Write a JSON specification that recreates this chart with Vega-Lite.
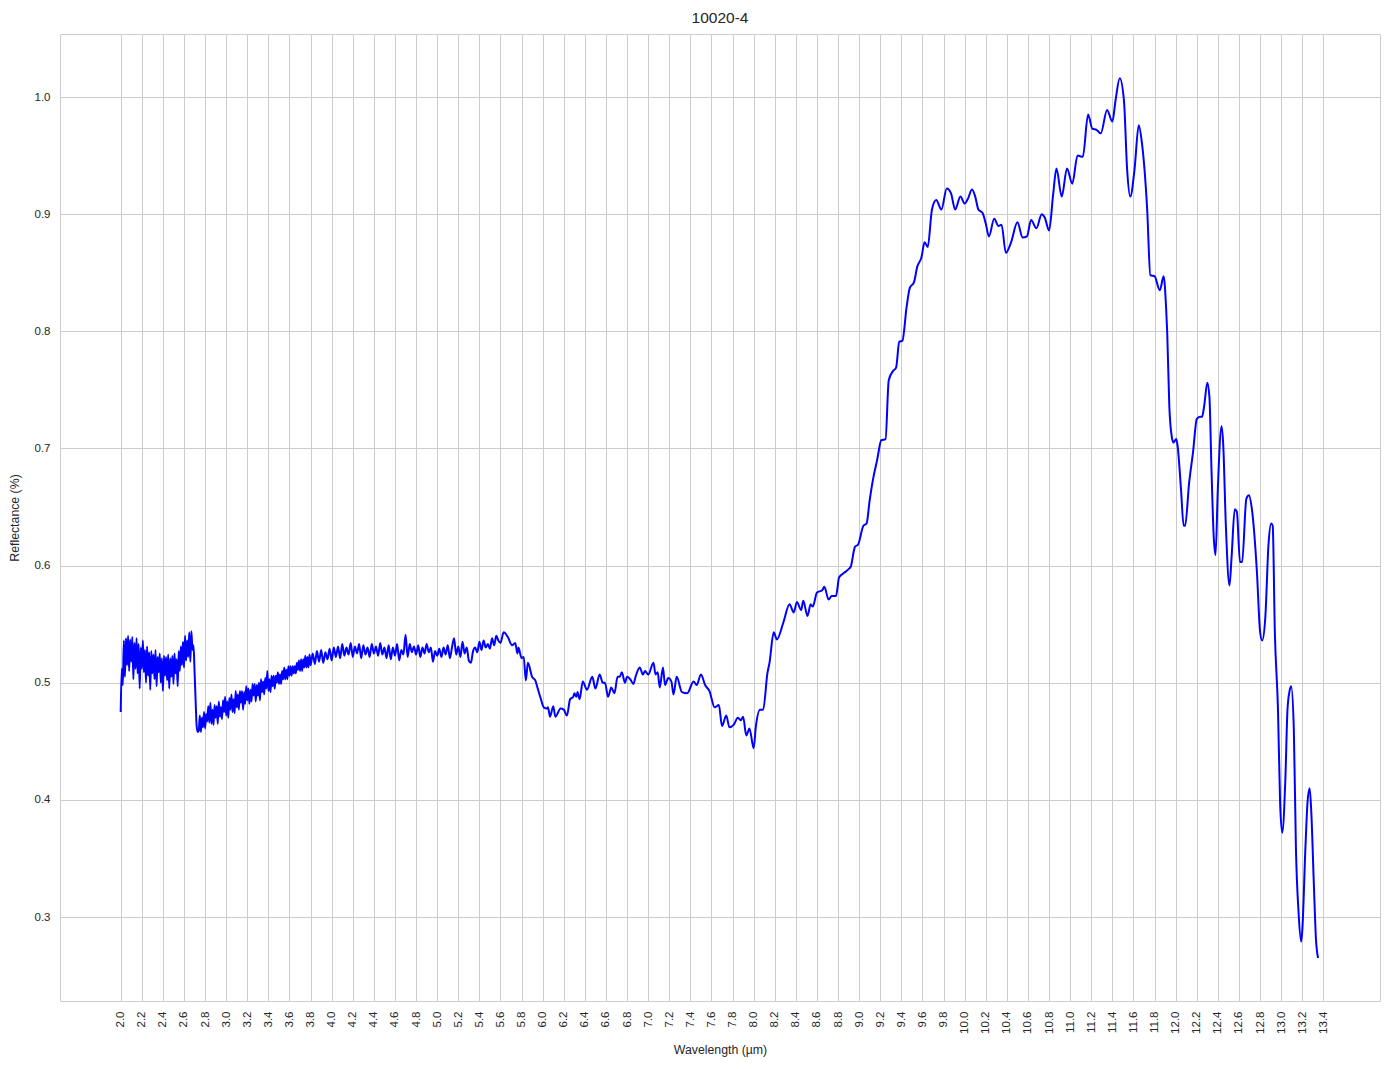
{
  "$schema": "https://vega.github.io/schema/vega-lite/v6.json",
  "autosize": {"type": "none"},
  "width": 1320,
  "height": 967,
  "padding": {"left": 60, "top": 34, "right": 14, "bottom": 68},
  "background": "white",
  "title": {"text": "10020-4", "fontSize": 15.5, "fontWeight": "normal", "font": "Liberation Sans", "color": "#262626", "offset": 8},
  "config": {
    "view": {"stroke": "#cccccc", "strokeWidth": 1},
    "axis": {
      "domain": false, "ticks": false, "grid": true, "gridColor": "#cccccc", "gridWidth": 1,
      "labelFont": "Liberation Sans", "labelFontSize": 11.5, "labelColor": "#262626",
      "titleFont": "Liberation Sans", "titleFontSize": 12.3, "titleFontWeight": "normal", "titleColor": "#262626"
    }
  },
  "data": {"values": [
    {"w":2.00,"r":0.475},{"w":2.01,"r":0.512},{"w":2.02,"r":0.498},{"w":2.03,"r":0.536},{"w":2.04,"r":0.505},{"w":2.05,"r":0.538},{"w":2.06,"r":0.515},{"w":2.07,"r":0.540},{"w":2.08,"r":0.510},{"w":2.09,"r":0.537},
    {"w":2.10,"r":0.518},{"w":2.11,"r":0.539},{"w":2.12,"r":0.503},{"w":2.13,"r":0.534},{"w":2.14,"r":0.512},{"w":2.15,"r":0.538},{"w":2.16,"r":0.508},{"w":2.17,"r":0.533},{"w":2.18,"r":0.495},{"w":2.19,"r":0.530},
    {"w":2.20,"r":0.512},{"w":2.21,"r":0.536},{"w":2.22,"r":0.509},{"w":2.23,"r":0.528},{"w":2.24,"r":0.500},{"w":2.25,"r":0.531},{"w":2.26,"r":0.506},{"w":2.27,"r":0.526},{"w":2.28,"r":0.494},{"w":2.29,"r":0.527},
    {"w":2.30,"r":0.508},{"w":2.31,"r":0.524},{"w":2.32,"r":0.503},{"w":2.33,"r":0.528},{"w":2.34,"r":0.497},{"w":2.35,"r":0.522},{"w":2.36,"r":0.509},{"w":2.37,"r":0.525},{"w":2.38,"r":0.500},{"w":2.39,"r":0.521},
    {"w":2.40,"r":0.493},{"w":2.41,"r":0.523},{"w":2.42,"r":0.506},{"w":2.43,"r":0.522},{"w":2.44,"r":0.502},{"w":2.45,"r":0.524},{"w":2.46,"r":0.495},{"w":2.47,"r":0.521},{"w":2.48,"r":0.505},{"w":2.49,"r":0.523},
    {"w":2.50,"r":0.499},{"w":2.51,"r":0.525},{"w":2.52,"r":0.508},{"w":2.53,"r":0.520},{"w":2.54,"r":0.497},{"w":2.55,"r":0.527},{"w":2.56,"r":0.510},{"w":2.57,"r":0.531},{"w":2.58,"r":0.515},{"w":2.59,"r":0.535},
    {"w":2.60,"r":0.513},{"w":2.61,"r":0.540},{"w":2.62,"r":0.519},{"w":2.63,"r":0.536},{"w":2.64,"r":0.522},{"w":2.65,"r":0.543},{"w":2.66,"r":0.518},{"w":2.67,"r":0.544},{"w":2.68,"r":0.528},{"w":2.69,"r":0.532},
    {"w":2.70,"r":0.510},{"w":2.71,"r":0.485},{"w":2.72,"r":0.463},{"w":2.73,"r":0.458},
    {"w":2.74,"r":0.459},{"w":2.75,"r":0.472},{"w":2.76,"r":0.458},{"w":2.77,"r":0.470},{"w":2.78,"r":0.462},{"w":2.79,"r":0.475},
    {"w":2.80,"r":0.461},{"w":2.81,"r":0.473},{"w":2.82,"r":0.467},{"w":2.83,"r":0.480},{"w":2.84,"r":0.466},{"w":2.85,"r":0.483},{"w":2.86,"r":0.465},{"w":2.87,"r":0.477},{"w":2.88,"r":0.464},{"w":2.89,"r":0.481},
    {"w":2.90,"r":0.470},{"w":2.91,"r":0.480},{"w":2.92,"r":0.465},{"w":2.93,"r":0.484},{"w":2.94,"r":0.471},{"w":2.95,"r":0.479},{"w":2.96,"r":0.469},{"w":2.97,"r":0.485},{"w":2.98,"r":0.475},{"w":2.99,"r":0.488},
    {"w":3.00,"r":0.472},{"w":3.01,"r":0.484},{"w":3.02,"r":0.470},{"w":3.03,"r":0.487},{"w":3.04,"r":0.477},{"w":3.05,"r":0.490},{"w":3.06,"r":0.475},{"w":3.07,"r":0.486},{"w":3.08,"r":0.474},{"w":3.09,"r":0.493},
    {"w":3.10,"r":0.479},{"w":3.11,"r":0.490},{"w":3.12,"r":0.477},{"w":3.13,"r":0.493},{"w":3.14,"r":0.483},{"w":3.15,"r":0.493},{"w":3.16,"r":0.477},{"w":3.17,"r":0.492},{"w":3.18,"r":0.482},{"w":3.19,"r":0.497},
    {"w":3.20,"r":0.485},{"w":3.21,"r":0.495},{"w":3.22,"r":0.482},{"w":3.23,"r":0.494},{"w":3.24,"r":0.484},{"w":3.25,"r":0.499},{"w":3.26,"r":0.489},{"w":3.27,"r":0.499},{"w":3.28,"r":0.484},{"w":3.29,"r":0.498},
    {"w":3.30,"r":0.489},{"w":3.31,"r":0.500},{"w":3.32,"r":0.485},{"w":3.33,"r":0.503},{"w":3.34,"r":0.492},{"w":3.35,"r":0.501},{"w":3.36,"r":0.490},{"w":3.37,"r":0.504},{"w":3.38,"r":0.495},{"w":3.39,"r":0.510},
    {"w":3.40,"r":0.493},{"w":3.41,"r":0.503},{"w":3.42,"r":0.492},{"w":3.43,"r":0.506},{"w":3.44,"r":0.497},{"w":3.45,"r":0.506},{"w":3.46,"r":0.495},{"w":3.47,"r":0.506},{"w":3.48,"r":0.500},{"w":3.49,"r":0.509},
    {"w":3.50,"r":0.499},{"w":3.51,"r":0.507},{"w":3.52,"r":0.499},{"w":3.53,"r":0.510},{"w":3.54,"r":0.503},{"w":3.55,"r":0.513},{"w":3.56,"r":0.503},{"w":3.57,"r":0.511},{"w":3.58,"r":0.503},{"w":3.59,"r":0.514},
    {"w":3.60,"r":0.506},{"w":3.61,"r":0.514},{"w":3.62,"r":0.506},{"w":3.63,"r":0.514},{"w":3.64,"r":0.508},{"w":3.65,"r":0.514},{"w":3.66,"r":0.508},{"w":3.67,"r":0.517},{"w":3.68,"r":0.511},{"w":3.69,"r":0.519},
    {"w":3.70,"r":0.510},{"w":3.71,"r":0.520},{"w":3.72,"r":0.510},{"w":3.73,"r":0.520},{"w":3.74,"r":0.513},{"w":3.75,"r":0.523},{"w":3.76,"r":0.513},{"w":3.77,"r":0.522},{"w":3.78,"r":0.513},{"w":3.79,"r":0.524},
    {"w":3.80,"r":0.515},{"w":3.82,"r":0.525},{"w":3.84,"r":0.516},{"w":3.86,"r":0.527},{"w":3.88,"r":0.518},{"w":3.90,"r":0.528},{"w":3.92,"r":0.517},{"w":3.94,"r":0.526},{"w":3.96,"r":0.520},{"w":3.98,"r":0.529},
    {"w":4.00,"r":0.519},{"w":4.02,"r":0.530},{"w":4.04,"r":0.522},{"w":4.06,"r":0.531},{"w":4.08,"r":0.521},{"w":4.10,"r":0.533},{"w":4.12,"r":0.523},{"w":4.14,"r":0.530},{"w":4.16,"r":0.524},{"w":4.18,"r":0.534},
    {"w":4.20,"r":0.522},{"w":4.22,"r":0.531},{"w":4.24,"r":0.525},{"w":4.26,"r":0.533},{"w":4.28,"r":0.521},{"w":4.30,"r":0.532},{"w":4.32,"r":0.524},{"w":4.34,"r":0.530},{"w":4.36,"r":0.522},{"w":4.38,"r":0.533},
    {"w":4.40,"r":0.525},{"w":4.42,"r":0.531},{"w":4.44,"r":0.523},{"w":4.46,"r":0.534},{"w":4.48,"r":0.524},{"w":4.50,"r":0.530},{"w":4.52,"r":0.521},{"w":4.54,"r":0.532},{"w":4.56,"r":0.520},{"w":4.58,"r":0.530},
    {"w":4.60,"r":0.523},{"w":4.62,"r":0.533},{"w":4.64,"r":0.519},{"w":4.66,"r":0.528},{"w":4.68,"r":0.524},{"w":4.70,"r":0.541},{"w":4.72,"r":0.522},{"w":4.74,"r":0.533},{"w":4.76,"r":0.526},{"w":4.78,"r":0.531},
    {"w":4.80,"r":0.524},{"w":4.82,"r":0.532},{"w":4.84,"r":0.522},{"w":4.86,"r":0.530},{"w":4.88,"r":0.525},{"w":4.90,"r":0.533},{"w":4.92,"r":0.526},{"w":4.94,"r":0.530},{"w":4.96,"r":0.518},{"w":4.98,"r":0.527},
    {"w":5.00,"r":0.523},{"w":5.02,"r":0.529},{"w":5.04,"r":0.522},{"w":5.06,"r":0.530},{"w":5.08,"r":0.524},{"w":5.10,"r":0.532},{"w":5.12,"r":0.521},{"w":5.14,"r":0.530},{"w":5.16,"r":0.538},{"w":5.18,"r":0.524},
    {"w":5.20,"r":0.531},{"w":5.22,"r":0.522},{"w":5.24,"r":0.535},{"w":5.26,"r":0.525},{"w":5.28,"r":0.530},{"w":5.30,"r":0.519},{"w":5.32,"r":0.517},{"w":5.34,"r":0.527},{"w":5.36,"r":0.530},{"w":5.38,"r":0.526},
    {"w":5.40,"r":0.535},{"w":5.42,"r":0.528},{"w":5.44,"r":0.536},{"w":5.46,"r":0.530},{"w":5.48,"r":0.533},{"w":5.50,"r":0.529},{"w":5.52,"r":0.538},{"w":5.54,"r":0.532},{"w":5.56,"r":0.540},{"w":5.58,"r":0.536},
    {"w":5.60,"r":0.534},{"w":5.63,"r":0.543},{"w":5.67,"r":0.539},{"w":5.71,"r":0.532},{"w":5.74,"r":0.534},{"w":5.76,"r":0.525},{"w":5.77,"r":0.530},{"w":5.80,"r":0.521},{"w":5.82,"r":0.522},{"w":5.84,"r":0.502},
    {"w":5.86,"r":0.517},{"w":5.90,"r":0.505},{"w":5.93,"r":0.502},{"w":5.95,"r":0.496},{"w":5.98,"r":0.487},{"w":6.01,"r":0.479},{"w":6.04,"r":0.478},{"w":6.05,"r":0.479},{"w":6.07,"r":0.471},{"w":6.10,"r":0.480},
    {"w":6.12,"r":0.471},{"w":6.17,"r":0.478},{"w":6.20,"r":0.477},{"w":6.23,"r":0.472},{"w":6.26,"r":0.486},{"w":6.29,"r":0.488},{"w":6.30,"r":0.491},{"w":6.32,"r":0.488},{"w":6.33,"r":0.492},{"w":6.35,"r":0.486},
    {"w":6.38,"r":0.501},{"w":6.42,"r":0.494},{"w":6.47,"r":0.505},{"w":6.50,"r":0.495},{"w":6.54,"r":0.507},{"w":6.57,"r":0.500},{"w":6.59,"r":0.500},{"w":6.62,"r":0.488},{"w":6.65,"r":0.496},{"w":6.68,"r":0.491},
    {"w":6.71,"r":0.505},{"w":6.73,"r":0.505},{"w":6.75,"r":0.509},{"w":6.78,"r":0.500},{"w":6.80,"r":0.505},{"w":6.83,"r":0.503},{"w":6.86,"r":0.499},{"w":6.88,"r":0.505},{"w":6.92,"r":0.513},{"w":6.95,"r":0.507},
    {"w":6.97,"r":0.510},{"w":7.00,"r":0.507},{"w":7.05,"r":0.517},{"w":7.07,"r":0.507},{"w":7.09,"r":0.509},{"w":7.11,"r":0.496},{"w":7.14,"r":0.513},{"w":7.16,"r":0.498},{"w":7.19,"r":0.504},{"w":7.22,"r":0.501},
    {"w":7.24,"r":0.490},{"w":7.27,"r":0.505},{"w":7.32,"r":0.492},{"w":7.37,"r":0.491},{"w":7.43,"r":0.501},{"w":7.46,"r":0.498},{"w":7.50,"r":0.507},{"w":7.54,"r":0.498},{"w":7.58,"r":0.493},{"w":7.63,"r":0.479},
    {"w":7.67,"r":0.481},{"w":7.70,"r":0.463},{"w":7.74,"r":0.472},{"w":7.77,"r":0.462},{"w":7.81,"r":0.464},{"w":7.85,"r":0.470},{"w":7.88,"r":0.468},{"w":7.90,"r":0.471},{"w":7.93,"r":0.455},{"w":7.96,"r":0.461},
    {"w":8.00,"r":0.444},{"w":8.02,"r":0.462},{"w":8.06,"r":0.477},{"w":8.09,"r":0.477},{"w":8.13,"r":0.508},{"w":8.15,"r":0.517},{"w":8.19,"r":0.543},{"w":8.22,"r":0.537},{"w":8.28,"r":0.551},{"w":8.34,"r":0.567},
    {"w":8.38,"r":0.560},{"w":8.41,"r":0.569},{"w":8.45,"r":0.562},{"w":8.47,"r":0.570},{"w":8.51,"r":0.557},{"w":8.54,"r":0.567},{"w":8.56,"r":0.565},{"w":8.60,"r":0.577},{"w":8.65,"r":0.579},{"w":8.67,"r":0.582},
    {"w":8.71,"r":0.571},{"w":8.74,"r":0.574},{"w":8.78,"r":0.574},{"w":8.81,"r":0.590},{"w":8.86,"r":0.594},{"w":8.90,"r":0.597},{"w":8.92,"r":0.599},{"w":8.96,"r":0.616},{"w":8.99,"r":0.618},{"w":9.04,"r":0.634},
    {"w":9.07,"r":0.636},{"w":9.10,"r":0.656},{"w":9.13,"r":0.673},{"w":9.17,"r":0.690},{"w":9.21,"r":0.707},{"w":9.25,"r":0.708},{"w":9.28,"r":0.758},{"w":9.32,"r":0.766},{"w":9.35,"r":0.769},{"w":9.38,"r":0.791},
    {"w":9.41,"r":0.792},{"w":9.45,"r":0.821},{"w":9.48,"r":0.837},{"w":9.52,"r":0.842},{"w":9.55,"r":0.855},{"w":9.59,"r":0.863},{"w":9.62,"r":0.876},{"w":9.65,"r":0.872},{"w":9.69,"r":0.904},{"w":9.73,"r":0.912},
    {"w":9.78,"r":0.904},{"w":9.83,"r":0.922},{"w":9.87,"r":0.918},{"w":9.91,"r":0.904},{"w":9.96,"r":0.915},{"w":10.00,"r":0.909},{"w":10.03,"r":0.913},{"w":10.07,"r":0.921},{"w":10.10,"r":0.915},{"w":10.13,"r":0.904},
    {"w":10.17,"r":0.901},{"w":10.20,"r":0.892},{"w":10.23,"r":0.881},{"w":10.28,"r":0.896},{"w":10.32,"r":0.890},{"w":10.35,"r":0.891},{"w":10.39,"r":0.867},{"w":10.44,"r":0.876},{"w":10.50,"r":0.893},{"w":10.55,"r":0.880},
    {"w":10.59,"r":0.881},{"w":10.63,"r":0.895},{"w":10.68,"r":0.888},{"w":10.73,"r":0.900},{"w":10.76,"r":0.897},{"w":10.80,"r":0.886},{"w":10.84,"r":0.918},{"w":10.87,"r":0.939},{"w":10.92,"r":0.915},{"w":10.97,"r":0.939},
    {"w":11.02,"r":0.926},{"w":11.07,"r":0.950},{"w":11.12,"r":0.949},{"w":11.17,"r":0.985},{"w":11.21,"r":0.973},{"w":11.25,"r":0.972},{"w":11.29,"r":0.969},{"w":11.35,"r":0.989},{"w":11.40,"r":0.979},{"w":11.43,"r":0.997},
    {"w":11.47,"r":1.016},{"w":11.51,"r":0.997},{"w":11.54,"r":0.938},{"w":11.57,"r":0.915},{"w":11.61,"r":0.938},{"w":11.65,"r":0.976},{"w":11.68,"r":0.961},{"w":11.73,"r":0.904},{"w":11.76,"r":0.848},{"w":11.80,"r":0.847},
    {"w":11.85,"r":0.835},{"w":11.886,"r":0.847},{"w":11.91,"r":0.819},{"w":11.92,"r":0.799},{"w":11.94,"r":0.736},{"w":11.965,"r":0.709},{"w":11.98,"r":0.705},{"w":12.006,"r":0.708},{"w":12.02,"r":0.701},{"w":12.05,"r":0.666},
    {"w":12.076,"r":0.634},{"w":12.09,"r":0.634},{"w":12.127,"r":0.670},{"w":12.165,"r":0.697},{"w":12.20,"r":0.725},{"w":12.23,"r":0.727},{"w":12.25,"r":0.727},{"w":12.27,"r":0.736},{"w":12.30,"r":0.756},{"w":12.32,"r":0.744},
    {"w":12.34,"r":0.681},{"w":12.36,"r":0.626},{"w":12.378,"r":0.609},{"w":12.40,"r":0.666},{"w":12.435,"r":0.719},{"w":12.45,"r":0.705},{"w":12.476,"r":0.634},{"w":12.51,"r":0.583},{"w":12.53,"r":0.607},{"w":12.56,"r":0.648},
    {"w":12.58,"r":0.646},{"w":12.61,"r":0.603},{"w":12.63,"r":0.603},{"w":12.67,"r":0.657},{"w":12.695,"r":0.660},{"w":12.72,"r":0.650},{"w":12.77,"r":0.595},{"w":12.80,"r":0.544},{"w":12.82,"r":0.536},{"w":12.85,"r":0.556},
    {"w":12.88,"r":0.618},{"w":12.905,"r":0.636},{"w":12.92,"r":0.634},{"w":12.94,"r":0.544},{"w":12.97,"r":0.477},{"w":12.99,"r":0.398},{"w":13.01,"r":0.372},{"w":13.04,"r":0.418},{"w":13.06,"r":0.477},{"w":13.08,"r":0.493},
    {"w":13.095,"r":0.497},{"w":13.12,"r":0.461},{"w":13.14,"r":0.359},{"w":13.165,"r":0.304},{"w":13.19,"r":0.279},{"w":13.20,"r":0.288},{"w":13.23,"r":0.359},{"w":13.25,"r":0.398},{"w":13.27,"r":0.410},{"w":13.285,"r":0.391},
    {"w":13.31,"r":0.328},{"w":13.33,"r":0.281},{"w":13.35,"r":0.265}
  ]},
  "mark": {"type": "line", "color": "#0000ff", "strokeWidth": 2, "interpolate": "monotone", "clip": true},
  "encoding": {
    "x": {
      "field": "w", "type": "quantitative", "title": "Wavelength (µm)",
      "scale": {"domain": [1.4246, 13.937], "nice": false, "zero": false},
      "axis": {"values": [2.0,2.2,2.4,2.6,2.8,3.0,3.2,3.4,3.6,3.8,4.0,4.2,4.4,4.6,4.8,5.0,5.2,5.4,5.6,5.8,6.0,6.2,6.4,6.6,6.8,7.0,7.2,7.4,7.6,7.8,8.0,8.2,8.4,8.6,8.8,9.0,9.2,9.4,9.6,9.8,10.0,10.2,10.4,10.6,10.8,11.0,11.2,11.4,11.6,11.8,12.0,12.2,12.4,12.6,12.8,13.0,13.2,13.4],
        "format": ".1f", "labelAngle": -90, "labelPadding": 10, "labelOverlap": false, "titlePadding": 10}
    },
    "y": {
      "field": "r", "type": "quantitative", "title": "Reflectance (%)",
      "scale": {"domain": [0.2283, 1.0538], "nice": false, "zero": false},
      "axis": {"values": [0.3,0.4,0.5,0.6,0.7,0.8,0.9,1.0], "format": ".1f", "labelPadding": 10, "titlePadding": 13}
    }
  }
}
